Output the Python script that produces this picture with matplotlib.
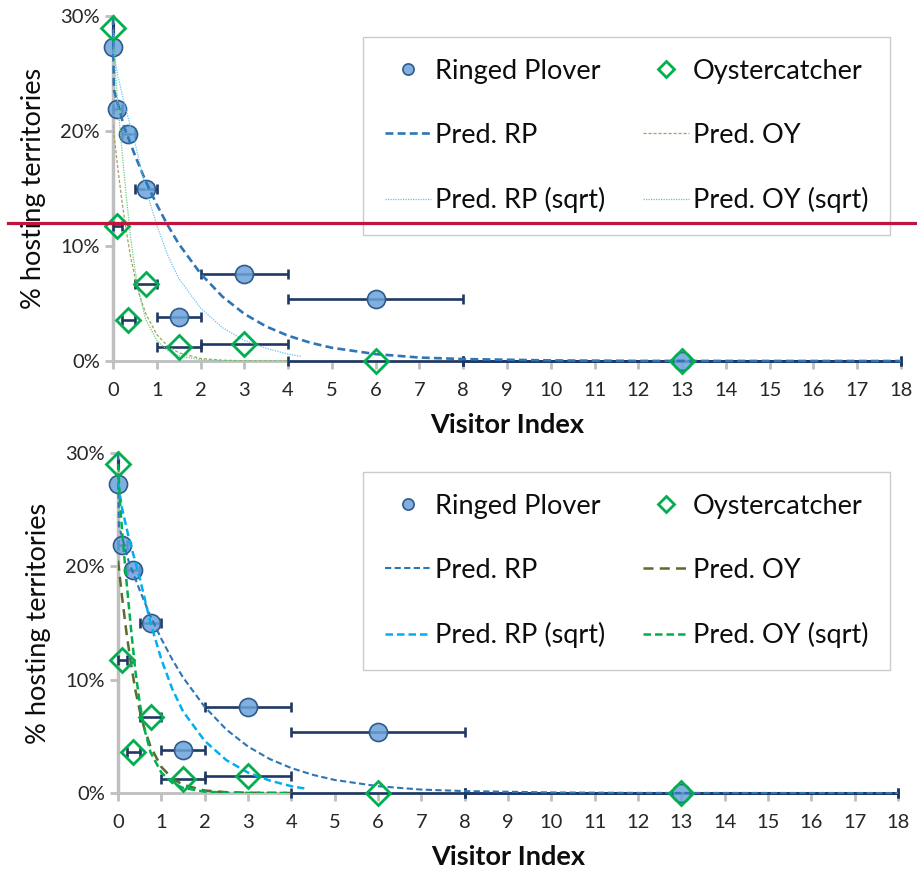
import numpy as np
import matplotlib
matplotlib.use("Agg")
import matplotlib.pyplot as plt
from matplotlib.lines import Line2D
from matplotlib import transforms
from matplotlib.ticker import FuncFormatter

plt.rcParams['font.family'] = ['Lato', 'DejaVu Sans']

# observed points: visitor index class (x), class range (lo-hi), % hosting territories
rp_x = [0, 0.1, 0.35, 0.75, 1.5, 3, 6, 13]
rp_y = [27.3, 21.9, 19.7, 15.0, 3.8, 7.6, 5.4, 0.0]
rp_lo = [0, 0, 0.2, 0.5, 1, 2, 4, 8]
rp_hi = [0, 0.2, 0.5, 1, 2, 4, 8, 18]

oy_x = [0, 0.1, 0.35, 0.75, 1.5, 3, 6, 13]
oy_y = [29.0, 11.7, 3.6, 6.7, 1.2, 1.5, 0.0, 0.0]
oy_lo = [0, 0, 0.2, 0.5, 1, 2, 4, 8]
oy_hi = [0, 0.2, 0.5, 1, 2, 4, 8, 18]

# model predictions
pred_rp_x = [0, 0.02, 0.25, 0.5, 0.75, 1, 1.25, 1.5, 2, 2.5, 3, 3.5, 4, 4.5, 5, 6, 7, 8, 10, 12, 18]
pred_rp_y = [29.9, 23.6, 20.4, 17.9, 15.6, 13.6, 11.8, 10.2, 7.6, 5.6, 4.1, 3.0, 2.2, 1.6, 1.15, 0.6, 0.3, 0.17, 0.05, 0.01, 0.0]

pred_oy_x = [0, 0.1, 0.2, 0.3, 0.4, 0.5, 0.6, 0.75, 1, 1.25, 1.5, 2, 2.5, 3, 4]
pred_oy_y = [20.5, 17.1, 14.0, 11.4, 9.1, 7.3, 5.8, 4.1, 2.3, 1.3, 0.72, 0.22, 0.07, 0.02, 0.0]

pred_rp_sqrt_x = [0, 0.1, 0.25, 0.5, 0.75, 1, 1.25, 1.5, 2, 2.5, 3, 3.5, 4, 4.3]
pred_rp_sqrt_y = [27.3, 25.0, 22.5, 19.0, 15.0, 11.8, 9.2, 7.2, 4.6, 2.9, 1.8, 1.1, 0.6, 0.4]

pred_oy_sqrt_x = [0, 0.05, 0.1, 0.2, 0.3, 0.4, 0.5, 0.6, 0.75, 1, 1.25, 1.5, 2, 2.5, 3, 4]
pred_oy_sqrt_y = [29.0, 25.5, 22.8, 18.5, 14.5, 10.8, 8.0, 5.8, 3.6, 1.8, 0.9, 0.45, 0.12, 0.03, 0.01, 0.0]

x_ticks = list(range(0, 19))
y_ticks = [0, 10, 20, 30]

GREY = '#BFBFBF'
ERR = '#1F3864'

top_styles = {
    'rp': dict(color='#2E75B6', lw=1.9, ls=(0, (3, 1.6))),
    'oy': dict(color='#A3A35E', lw=0.9, ls=(0, (2.5, 1.5))),
    'rp_sqrt': dict(color='#62C6F2', lw=0.9, ls=(0, (1, 1))),
    'oy_sqrt': dict(color='#66CC88', lw=0.9, ls=(0, (1, 1))),
}
bottom_styles = {
    'rp': dict(color='#2E75B6', lw=1.5, ls=(0, (3, 1.6))),
    'oy': dict(color='#5B6B2A', lw=1.8, ls=(0, (4, 2.5))),
    'rp_sqrt': dict(color='#00B0F0', lw=1.8, ls=(0, (3, 1.6))),
    'oy_sqrt': dict(color='#00B050', lw=1.8, ls=(0, (3, 1.6))),
}


def draw_panel(ax, styles, legend_box):
    l_rp, = ax.plot(pred_rp_x, pred_rp_y, zorder=5, clip_on=False, **styles['rp'])
    l_rps, = ax.plot(pred_rp_sqrt_x, pred_rp_sqrt_y, zorder=5, **styles['rp_sqrt'])
    l_oy, = ax.plot(pred_oy_x, pred_oy_y, zorder=5, **styles['oy'])
    l_oys, = ax.plot(pred_oy_sqrt_x, pred_oy_sqrt_y, zorder=5, **styles['oy_sqrt'])

    for xs, ys, lo, hi in [(rp_x, rp_y, rp_lo, rp_hi), (oy_x, oy_y, oy_lo, oy_hi)]:
        xs = np.array(xs)
        xerr = [xs - np.array(lo), np.array(hi) - xs]
        eb = ax.errorbar(xs, ys, xerr=xerr, fmt='none', ecolor=ERR, elinewidth=1.9,
                         capsize=3.8, capthick=1.9, zorder=3)
        for a in eb.get_children():
            a.set_clip_on(False)

    m_rp, = ax.plot(rp_x, rp_y, 'o', ms=13, mfc=(0.42, 0.64, 0.86, 0.85), mec='#2F5B8A',
                    mew=1.2, ls='none', zorder=4, clip_on=False)
    m_oy, = ax.plot(oy_x, oy_y, 'D', ms=12.5, mfc='none', mec='#00B050',
                    mew=2, ls='none', zorder=6, clip_on=False)

    ax.set_xlim(0, 18)
    ax.set_ylim(0, 30)
    ax.set_xticks(x_ticks)
    ax.set_yticks(y_ticks)
    ax.yaxis.set_major_formatter(FuncFormatter(lambda v, p: f'{v:.0f}%'))
    for s in ['top', 'right']:
        ax.spines[s].set_visible(False)
    ax.spines['left'].set_color(GREY)
    ax.spines['left'].set_linewidth(2.5)
    ax.spines['bottom'].set_color(GREY)
    ax.spines['bottom'].set_linewidth(2)
    ax.tick_params(axis='both', colors=GREY, width=2, length=6, direction='out',
                   labelcolor='#262626', labelsize=14.5)
    ax.tick_params(axis='x', pad=9)
    ax.set_xlabel('Visitor Index', fontsize=19.5, fontweight='bold', color='#0D0D0D', labelpad=10)
    ax.set_ylabel('% hosting territories', fontsize=19.5, color='#0D0D0D', labelpad=10)

    handles = [m_rp, l_rp, l_rps, m_oy, l_oy, l_oys]
    labels = ['Ringed Plover', 'Pred. RP', 'Pred. RP (sqrt)',
              'Oystercatcher', 'Pred. OY', 'Pred. OY (sqrt)']
    leg = ax.legend(handles, labels, ncol=2, loc='upper left', bbox_to_anchor=legend_box,
                    bbox_transform=ax.figure.transFigure, mode='expand', fontsize=19.5,
                    frameon=True, fancybox=False, edgecolor=GREY, markerscale=0.62,
                    handlelength=1.7, handletextpad=0.15, labelspacing=1.45,
                    borderpad=0.8, columnspacing=1.4, borderaxespad=0)
    leg.get_frame().set_linewidth(1.0)
    for t in leg.get_texts():
        t.set_color('#0D0D0D')
    return leg


fig = plt.figure(figsize=(9.17, 8.74), dpi=100)
W, H = 917, 874
ax1 = fig.add_axes([113 / W, 1 - 361 / H, (901 - 113) / W, 345 / H])
ax2 = fig.add_axes([118 / W, 1 - 793 / H, (898 - 118) / W, 340 / H])

draw_panel(ax1, top_styles, (363 / W, 1 - 240 / H, (890 - 363) / W, (240 - 37) / H))
draw_panel(ax2, bottom_styles, (363 / W, 1 - 662 / H, (890 - 363) / W, (662 - 472) / H))

# red reference line across the top panel at 12%
tr = transforms.blended_transform_factory(fig.transFigure, ax1.transData)
fig.add_artist(Line2D([8 / W, 1.0], [12.0, 12.0], transform=tr, color='#C0143C', lw=2.3, zorder=10))

fig.savefig('out.png', dpi=100, facecolor='white')
